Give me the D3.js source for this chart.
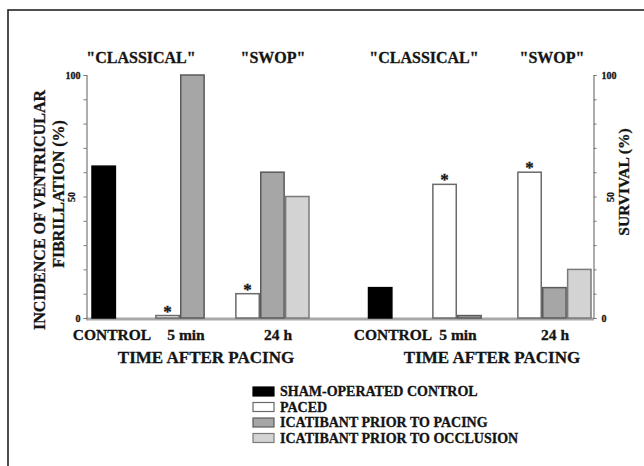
<!DOCTYPE html>
<html>
<head>
<meta charset="utf-8">
<script src="https://cdn.jsdelivr.net/npm/d3@7"></script>
<style>
  html, body { margin: 0; padding: 0; background: #fff; }
  svg { display: block; }
  text { font-family: "Liberation Serif", "Times New Roman", serif; font-weight: bold; fill: #141414; stroke: #141414; stroke-width: 0.3; }
</style>
</head>
<body>
<svg id="chart" width="644" height="466"></svg>
<script>
// ---------------- DATA ----------------
const categories = ["CONTROL", "5 min", "24 h"];
const seriesNames = ["SHAM-OPERATED CONTROL", "PACED", "ICATIBANT PRIOR TO PACING", "ICATIBANT PRIOR TO OCCLUSION"];
// incidence of ventricular fibrillation (%), rows = categories, columns = series (null = no bar)
const vfControl = [62.5, null, null, null];
const vf5min    = [null, 1, 100, null];
const vf24h     = [null, 10, 60, 50];
// survival (%)
const survControl = [12.5, null, null, null];
const surv5min    = [null, 55, 1, null];
const surv24h     = [null, 60, 12.5, 20];
// significance stars (category, series)
const vfStars   = [["5 min", "PACED"], ["24 h", "PACED"]];
const survStars = [["5 min", "PACED"], ["24 h", "PACED"]];
const headers = ['"CLASSICAL"', '"SWOP"'];
const yTicks = [0, 10, 20, 30, 40, 50, 60, 70, 80, 90, 100];
const yTickLabels = [0, 50, 100];
const xTitle = "TIME AFTER PACING";
const vfTitle = ["INCIDENCE OF VENTRICULAR", "FIBRILLATION (%)"];
const survTitle = "SURVIVAL (%)";

// ---------------- LAYOUT / STYLE ----------------
const svg = d3.select("#chart");
const fills = d3.scaleOrdinal().domain(seriesNames).range(["#000000", "#ffffff", "#a6a6a6", "#d3d3d3"]);
const strokes = d3.scaleOrdinal().domain(seriesNames).range(["#000000", "#6a6a6a", "#5a5a5a", "#7a7a7a"]);
const slot = d3.scaleBand().domain(seriesNames).range([0, 98]).paddingInner(0.06).paddingOuter(0);

const y = d3.scaleLinear().domain([0, 100]).range([318, 75]);

// frame
svg.append("rect").attr("x", 8).attr("y", 10).attr("width", 700).attr("height", 500)
  .attr("fill", "none").attr("stroke", "#222").attr("stroke-width", 1.6);

function toRows(rows) {
  const out = [];
  rows.forEach((vals, ci) => vals.forEach((v, si) => {
    if (v !== null) out.push({ cat: categories[ci], ser: seriesNames[si], value: v });
  }));
  return out;
}

const panels = [
  { data: toRows([vfControl, vf5min, vf24h]), stars: vfStars,
    groupX: d3.scaleOrdinal().domain(categories).range([92, 131, 211]),
    labelX: d3.scaleOrdinal().domain(categories).range([112, 186, 278]),
    headerX: [141, 273], titleX: 206 },
  { data: toRows([survControl, surv5min, surv24h]), stars: survStars,
    groupX: d3.scaleOrdinal().domain(categories).range([368.5, 408, 493]),
    labelX: d3.scaleOrdinal().domain(categories).range([393, 458, 555]),
    headerX: [424, 552], titleX: 492 }
];

// baseline (gray band)
svg.append("line").attr("x1", 86).attr("x2", 594).attr("y1", y(0) + 1).attr("y2", y(0) + 1)
  .attr("stroke", "#a8a8a8").attr("stroke-width", 3.2);

panels.forEach(p => {
  const g = svg.append("g");
  g.selectAll("rect.bar").data(p.data).join("rect")
    .attr("class", "bar")
    .attr("x", d => p.groupX(d.cat) + slot(d.ser))
    .attr("y", d => y(d.value))
    .attr("width", slot.bandwidth())
    .attr("height", d => y(0) - y(d.value))
    .attr("fill", d => fills(d.ser))
    .attr("stroke", d => strokes(d.ser))
    .attr("stroke-width", 1.5);

  const lookup = new Map(p.data.map(d => [d.cat + "|" + d.ser, d]));
  g.selectAll("text.star").data(p.stars.map(s => lookup.get(s[0] + "|" + s[1]))).join("text")
    .attr("class", "star")
    .attr("x", d => p.groupX(d.cat) + slot(d.ser) + slot.bandwidth() / 2)
    .attr("y", d => y(d.value) + 1)
    .attr("text-anchor", "middle")
    .attr("font-size", 17)
    .text("*");

  // category labels
  g.selectAll("text.cat").data(categories).join("text")
    .attr("class", "cat")
    .attr("x", d => p.labelX(d))
    .attr("y", 340)
    .attr("text-anchor", "middle")
    .attr("font-size", 15.5)
    .text(d => d);

  g.append("text").attr("x", p.titleX).attr("y", 363).attr("text-anchor", "middle")
    .attr("font-size", 17).text(xTitle);

  g.selectAll("text.hdr").data(headers).join("text")
    .attr("class", "hdr")
    .attr("x", (d, i) => p.headerX[i])
    .attr("y", 63)
    .attr("text-anchor", "middle")
    .attr("font-size", 16)
    .text(d => d);
});

// axes
const fmt = d => (yTickLabels.includes(d) ? String(d) : "");
function styleAxis(ax, side) {
  ax.select(".domain").attr("stroke", "#777").attr("stroke-width", 1.2);
  ax.selectAll(".tick line").attr("stroke", "#777").attr("stroke-width", 1);
  ax.selectAll(".tick text").attr("font-size", 10).attr("font-family", "Liberation Serif").attr("font-weight", "bold").attr("fill", "#141414");
  ax.selectAll(".tick text").filter(d => d === 50)
    .attr("x", 0).attr("dy", "0.35em").attr("text-anchor", "middle")
    .attr("transform", side === "left" ? "translate(-15,0) rotate(-90)" : "translate(17,0) rotate(-90)");
}
const axL = svg.append("g").attr("transform", "translate(86.5,0)")
  .call(d3.axisLeft(y).tickValues(yTicks).tickSize(3).tickSizeOuter(3).tickPadding(3).tickFormat(fmt));
styleAxis(axL, "left");
const axR = svg.append("g").attr("transform", "translate(593.5,0)")
  .call(d3.axisRight(y).tickValues(yTicks).tickSize(3).tickSizeOuter(3).tickPadding(5).tickFormat(fmt));
styleAxis(axR, "right");

// y titles
svg.append("text").attr("transform", "translate(45,210) rotate(-90)")
  .attr("text-anchor", "middle").attr("font-size", 16).text(vfTitle[0]);
svg.append("text").attr("transform", "translate(64,194) rotate(-90)")
  .attr("text-anchor", "middle").attr("font-size", 16).text(vfTitle[1]);
svg.append("text").attr("transform", "translate(629,182) rotate(-90)")
  .attr("text-anchor", "middle").attr("font-size", 15.5).text(survTitle);

// legend
const leg = svg.append("g").attr("transform", "translate(253,386)");
const legRow = d3.scaleBand().domain(seriesNames).range([0, 62]);
const items = leg.selectAll("g").data(seriesNames).join("g")
  .attr("transform", d => `translate(0,${legRow(d)})`);
items.append("rect").attr("x", 0).attr("y", 1).attr("width", 21).attr("height", 9)
  .attr("fill", d => fills(d)).attr("stroke", d => strokes(d)).attr("stroke-width", 1.2);
items.append("text").attr("x", 27).attr("y", 10).attr("font-size", 14).text(d => d);
</script>
</body>
</html>
